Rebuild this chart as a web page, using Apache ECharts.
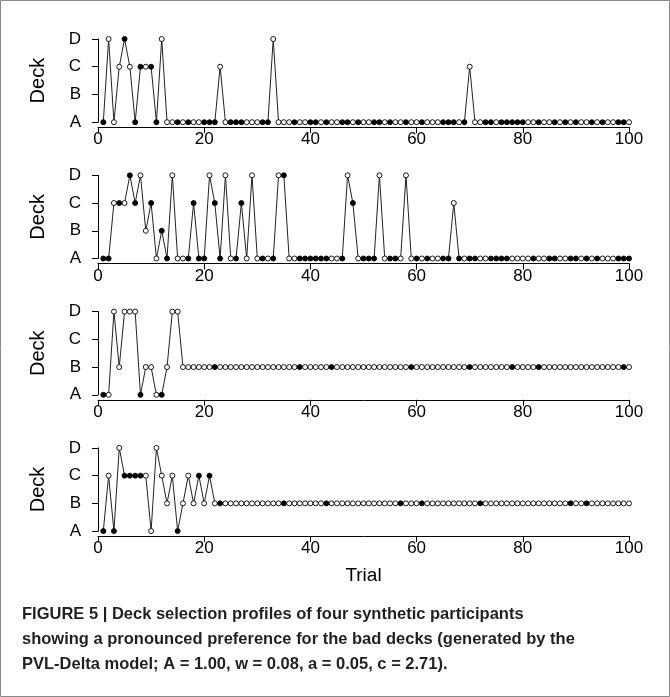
<!DOCTYPE html>
<html><head><meta charset="utf-8">
<script src="https://cdn.jsdelivr.net/npm/echarts@6/dist/echarts.min.js"></script>
<style>
html,body{margin:0;padding:0;background:#fff;}
#c{width:670px;height:697px;}
</style></head>
<body><div id="c"></div>
<script>
// Deck choices (A-D) per trial 1..100 and filled (1) / open (0) markers
const deckLabels = ['A','B','C','D'];
const xTicks = [0,20,40,60,80,100];

const p1Deck = ['A','D','A','C','D','C','A','C','C','C','A','D',
 'A','A','A','A','A','A','A','A','A','A','C',
 'A','A','A','A','A','A','A','A','A','D',
 'A','A','A','A','A','A','A','A','A','A','A','A','A','A','A','A','A','A','A','A','A','A','A','A','A','A','A','A','A','A','A','A','A','A','A','A','C',
 'A','A','A','A','A','A','A','A','A','A','A','A','A','A','A','A','A','A','A','A','A','A','A','A','A','A','A','A','A','A'];
const p1Fill = [1,0,0,0,1,0,1,1,0,1,1,0,
 0,0,1,0,1,0,0,1,1,1,0,
 0,1,1,1,0,0,0,1,1,0,
 0,0,0,1,0,0,1,1,0,1,0,0,1,1,0,1,0,0,1,1,0,1,0,0,1,0,0,1,0,0,0,1,1,1,0,1,0,
 0,0,1,1,0,1,1,1,1,1,0,0,1,0,0,1,0,1,0,1,0,0,1,0,1,0,0,1,1,0];

const p2Deck = ['A','A','C','C','C','D','C','D','B','C','A','B','A','D','A','A','A','C','A','A',
 'D','C','A','D','A','A','C','A','D','A','A','A','A','D','D',
 'A','A','A','A','A','A','A','A','A','A','A','D','C','A','A','A','A','D','A','A','A','A','D',
 'A','A','A','A','A','A','A','A','C',
 'A','A','A','A','A','A','A','A','A','A','A','A','A','A','A','A','A','A','A','A','A','A','A','A','A','A','A','A','A','A','A','A','A'];
const p2Fill = [1,1,0,1,0,1,1,0,0,1,0,1,1,0,0,0,1,1,1,1,
 0,1,1,0,0,1,1,0,0,0,1,0,1,0,1,
 0,0,1,1,1,1,1,1,0,0,1,0,1,0,1,1,1,0,0,1,1,0,0,
 0,1,0,1,0,0,1,1,0,
 1,0,1,1,0,0,1,1,1,1,0,0,0,0,1,0,0,1,1,0,0,1,1,0,1,0,1,0,0,0,1,1,1];

const p3Deck = ['A','A','D','B','D','D','D','A','B','B','A','A','B','D','D',
 'B','B','B','B','B','B','B','B','B','B','B','B','B','B','B','B','B','B','B','B','B','B','B','B','B','B','B','B','B','B','B','B','B','B','B','B','B','B','B','B','B','B','B','B','B','B','B','B','B','B','B','B','B','B','B','B','B','B','B','B','B','B','B','B','B','B','B','B','B','B','B','B','B','B','B','B','B','B','B','B','B','B','B','B','B'];
const p3FilledTrials = [1,8,12,22,38,44,59,70,78,83,99];

const p4Deck = ['A','C','A','D','C','C','C','C','C','A','D','C','B','C','A','B','C','B','C','B','C','B',
 'B','B','B','B','B','B','B','B','B','B','B','B','B','B','B','B','B','B','B','B','B','B','B','B','B','B','B','B','B','B','B','B','B','B','B','B','B','B','B','B','B','B','B','B','B','B','B','B','B','B','B','B','B','B','B','B','B','B','B','B','B','B','B','B','B','B','B','B','B','B','B','B','B','B','B','B','B','B'];
const p4FilledTrials = [1,3,5,6,7,8,15,19,21,23,35,43,57,61,72,89,92];

const caption = ['FIGURE 5 | Deck selection profiles of four synthetic participants',
 'showing a pronounced preference for the bad decks (generated by the',
 'PVL-Delta model; A = 1.00, w = 0.08, a = 0.05, c = 2.71).'];

function fillFromTrials(list){ const f=[]; for(let t=1;t<=100;t++) f.push(list.indexOf(t)>=0?1:0); return f; }
const panels = [
  {deck:p1Deck, fill:p1Fill},
  {deck:p2Deck, fill:p2Fill},
  {deck:p3Deck, fill:fillFromTrials(p3FilledTrials)},
  {deck:p4Deck, fill:fillFromTrials(p4FilledTrials)}
];

const FONT = '"Liberation Sans", Arial, Helvetica, sans-serif';
const top0 = 39, pitch = 136.3, ph = 83.2;
const grids=[], xAxes=[], yAxes=[], series=[];
panels.forEach((p,i)=>{
  grids.push({left:98, width:531, top: top0 + i*pitch, height: ph});
  xAxes.push({type:'value', gridIndex:i, min:0, max:100, interval:20, offset:5,
    axisLine:{show:true, lineStyle:{color:'#000', width:1}},
    axisTick:{show:true, length:6, lineStyle:{color:'#000'}},
    axisLabel:{show:true, color:'#000', fontSize:17, fontFamily:FONT, margin:4},
    splitLine:{show:false},
    name: i===3 ? 'Trial' : '', nameLocation:'middle', nameGap:30,
    nameTextStyle:{color:'#000', fontSize:19, fontFamily:FONT}
  });
  yAxes.push({type:'value', gridIndex:i, min:1, max:4, interval:1, offset:10,
    axisLine:{show:true, lineStyle:{color:'#000', width:1}},
    axisTick:{show:true, length:6, lineStyle:{color:'#000'}},
    axisLabel:{show:true, color:'#000', fontSize:17, fontFamily:FONT, margin:7,
      formatter:v=>deckLabels[v-1]},
    splitLine:{show:false},
    name:'Deck', nameLocation:'middle', nameGap:40, nameRotate:90,
    nameTextStyle:{color:'#000', fontSize:20, fontFamily:FONT}
  });
  series.push({type:'line', xAxisIndex:i, yAxisIndex:i,
    data: p.deck.map((d,k)=>({value:[k+1, deckLabels.indexOf(d)+1],
      itemStyle:{color: p.fill[k] ? '#000' : '#fff', borderColor:'#000', borderWidth:0.9}})),
    symbol:'circle', symbolSize:5, showSymbol:true,
    lineStyle:{color:'#222', width:1}, animation:false, z:2
  });
});

const chart = echarts.init(document.getElementById('c'), null, {renderer:'canvas'});
chart.setOption({
  backgroundColor:'#fff',
  animation:false,
  grid:grids, xAxis:xAxes, yAxis:yAxes, series:series,
  graphic:[
    {type:'rect', shape:{x:0.5, y:0.5, width:669, height:696}, style:{fill:'none', stroke:'#888', lineWidth:1}},
    {type:'text', left:22, top:602, style:{text:caption.join('\n'), fill:'#231f20',
      font:'bold 16.5px '+FONT, lineHeight:25}}
  ]
});
</script>
</body></html>
